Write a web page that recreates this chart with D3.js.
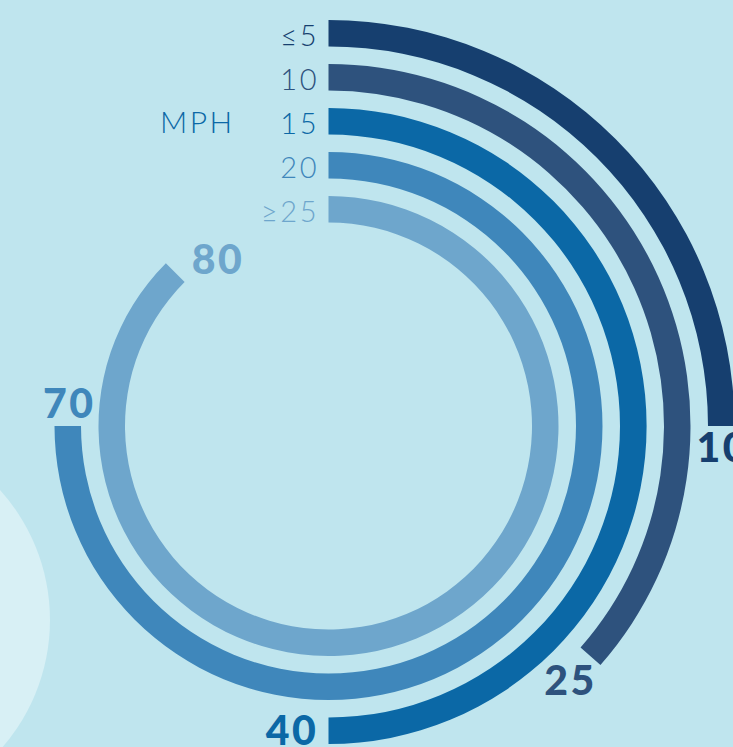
<!DOCTYPE html>
<html><head><meta charset="utf-8">
<script src="https://cdn.jsdelivr.net/npm/d3@7"></script>
<style>html,body{margin:0;padding:0;background:#bfe5ee;overflow:hidden}svg{display:block}</style>
</head><body>
<svg id="c" width="733" height="747"></svg>
<script>
// Data
const speeds = ["≤5", "10", "15", "20", "≥25"];        // MPH categories
const values = [10, 25, 40, 70, 80];                   // % (label values)
const colors = ["#163f6f", "#2e527d", "#0b68a6", "#3f87bb", "#6ea6cc"];

const W = 733, H = 747;
const cx = 328.5, cy = 426;
const svg = d3.select("#c");

// background + light circle
svg.append("rect").attr("width", W).attr("height", H).attr("fill", "#bfe5ee");
svg.append("circle").attr("cx", -144).attr("cy", 620).attr("r", 194).attr("fill", "#d8f0f5");

const g = svg.append("g").attr("transform", `translate(${cx},${cy})`);

// radius per ring (outer radius)
const rScale = d3.scaleLinear().domain([0, speeds.length - 1]).range([406, 230]);
const thickness = 26.5;
// angle scale (degrees) – the designer's non-uniform value-to-angle mapping
const aScale = d3.scaleLinear().domain([0, 10, 25, 40, 70, 80, 100]).range([0, 90, 131.3, 180, 270, 315, 360]);

const arc = d3.arc();

speeds.forEach((s, i) => {
  const ro = rScale(i), ri = ro - thickness;
  const ea = aScale(values[i]) * Math.PI / 180;
  g.append("path")
    .attr("d", arc({innerRadius: ri, outerRadius: ro, startAngle: 0, endAngle: ea}))
    .attr("fill", colors[i]);

  // category label at ring start
  g.append("text")
    .attr("x", 317 - cx + 2)
    .attr("y", -ro + 26)
    .attr("text-anchor", "end")
    .attr("font-family", "Lato")
    .attr("font-weight", 300)
    .attr("font-size", 29)
    .attr("letter-spacing", 2.5)
    .attr("fill", colors[i])
    .text(s);

  // value label beyond the ring end
  const rm = (ro + ri) / 2;
  const ex = Math.sin(ea) * rm, ey = -Math.cos(ea) * rm;
  const tx = Math.cos(ea), ty = Math.sin(ea);
  const upperLeft = Math.sin(ea) < 0 && Math.cos(ea) > 0;
  const d = 22 + 16 * Math.abs(tx) + (upperLeft ? 5 : 0);
  let lx = ex + tx * d, ly = ey + ty * d;
  const rad = upperLeft ? 20 : 0;
  lx -= Math.sin(ea) * rad; ly += Math.cos(ea) * rad;
  g.append("text")
    .attr("x", lx + 1.5)
    .attr("y", ly)
    .attr("dy", "0.34em")
    .attr("text-anchor", "middle")
    .attr("font-family", "Lato")
    .attr("font-weight", 900)
    .attr("font-size", 41)
    .attr("letter-spacing", 2.5)
    .attr("fill", colors[i])
    .text(values[i]);
});

svg.append("text")
  .attr("x", 160)
  .attr("y", 133)
  .attr("font-family", "Lato")
  .attr("font-weight", 300)
  .attr("font-size", 30)
  .attr("letter-spacing", 2.5)
  .attr("fill", "#0b68a6")
  .text("MPH");
</script>
</body></html>
